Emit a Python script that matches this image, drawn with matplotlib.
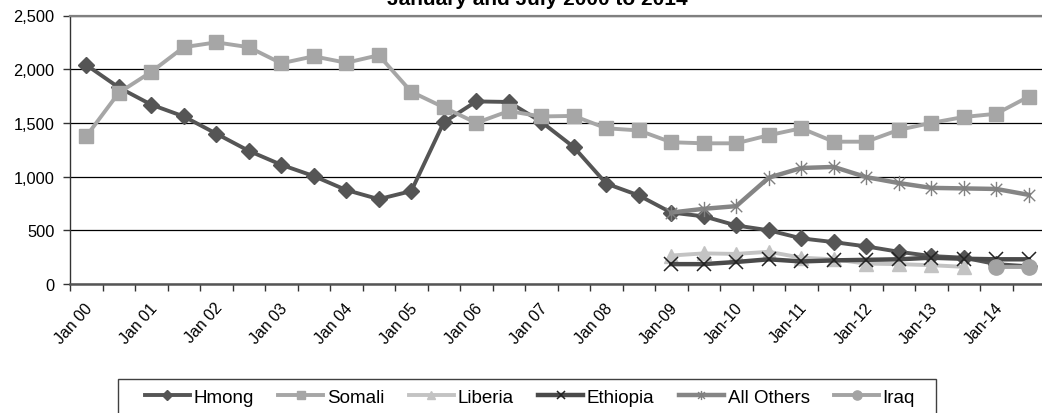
import matplotlib
matplotlib.use('Agg')
import matplotlib.pyplot as plt
import numpy as np
from matplotlib.path import Path
from matplotlib.patches import Rectangle

# half-year periods, Jan 2000 .. Jul 2014
periods = ['Jan 00', 'Jul 00', 'Jan 01', 'Jul 01', 'Jan 02', 'Jul 02', 'Jan 03', 'Jul 03',
           'Jan 04', 'Jul 04', 'Jan 05', 'Jul 05', 'Jan 06', 'Jul 06', 'Jan 07', 'Jul 07',
           'Jan 08', 'Jul 08', 'Jan-09', 'Jul-09', 'Jan-10', 'Jul-10', 'Jan-11', 'Jul-11',
           'Jan-12', 'Jul-12', 'Jan-13', 'Jul-13', 'Jan-14', 'Jul-14']

hmong = [2040, 1830, 1670, 1560, 1400, 1240, 1110, 1005, 875, 790, 865, 1505, 1700, 1695,
         1510, 1275, 935, 825, 665, 630, 545, 500, 425, 390, 350, 300, 260, 245, 185, 165]
somali = [1375, 1780, 1975, 2205, 2250, 2205, 2055, 2120, 2060, 2130, 1790, 1645, 1500, 1610,
          1560, 1565, 1450, 1430, 1320, 1310, 1310, 1385, 1450, 1325, 1325, 1435, 1500, 1555,
          1585, 1745]
liberia = [None] * 18 + [265, 285, 280, 300, 245, 230, 190, 185, 175, 160] + [None] * 2
ethiopia = [None] * 18 + [185, 185, 205, 230, 210, 220, 225, 230, 245, 235, 230, 230]
all_others = [None] * 18 + [665, 700, 725, 990, 1080, 1090, 995, 940, 895, 890, 885, 830]
iraq = [None] * 28 + [155, 155]

y_ticks = [0, 500, 1000, 1500, 2000, 2500]


def arr(vals):
    return np.array([np.nan if v is None else v for v in vals], dtype=float)


# Excel-style star: an x with a vertical bar through it
star = Path([(0, -1), (0, 1), (-0.75, -0.75), (0.75, 0.75), (-0.75, 0.75), (0.75, -0.75)],
            [Path.MOVETO, Path.LINETO, Path.MOVETO, Path.LINETO, Path.MOVETO, Path.LINETO])

plt.rcParams['font.family'] = ['Liberation Sans', 'DejaVu Sans']

W, H = 1042, 414
fig = plt.figure(figsize=(W / 100, H / 100), dpi=100)
ax = fig.add_axes([70 / W, 1 - 285 / H, 975 / W, (285 - 16.5) / H])

x = np.arange(len(periods))
lw = 2.8
ax.plot(x, arr(hmong), color='#555555', lw=lw, marker='D', ms=8, label='Hmong')
ax.plot(x, arr(somali), color='#a6a6a6', lw=lw, marker='s', ms=10.5, label='Somali')
ax.plot(x, arr(liberia), color='#c3c3c3', lw=lw, marker='^', ms=9.5, label='Liberia')
ax.plot(x, arr(ethiopia), color='#4a4a4a', lw=lw + 0.4, marker='x', ms=10, mew=1.1,
        mec='#222222', label='Ethiopia')
ax.plot(x, arr(all_others), color='#858585', lw=lw + 0.4, marker=star, ms=11, mew=1.0,
        mfc='none', mec='#808080', label='All Others')
ax.plot(x, arr(iraq), color='#a3a3a3', lw=lw, marker='o', ms=11, label='Iraq')

ax.set_xlim(-0.5, len(periods) - 0.5)
ax.set_ylim(0, 2500)
ax.set_yticks(y_ticks)
ax.set_yticklabels([f'{v:,}' for v in y_ticks], fontsize=11.8)
ax.yaxis.grid(True, color='black', lw=0.9)
ax.set_axisbelow(True)

ax.set_xticks(np.arange(-0.5, len(periods), 1.0))
ax.set_xticklabels([])
ax.tick_params(axis='both', direction='out', length=5, width=1, color='#333333')
ax.tick_params(axis='y', pad=6)
for i in range(0, len(periods), 2):
    ax.annotate(periods[i], xy=(i, 0), xycoords=('data', 'axes fraction'),
                xytext=(2.5, -15), textcoords='offset points', rotation=48,
                rotation_mode='anchor', ha='right', va='center', fontsize=11.5)

ax.spines['top'].set_color('#808080')
ax.spines['top'].set_linewidth(1.6)
ax.spines['left'].set_color('#333333')
ax.spines['left'].set_linewidth(1.0)
ax.spines['bottom'].set_color('#555555')
ax.spines['bottom'].set_linewidth(1.8)
ax.spines['right'].set_visible(False)

fig.text(537 / W, 1 - 5 / H, 'January and July 2000 to 2014', ha='center', va='baseline',
         fontsize=15, fontweight='bold')

fig.patches.append(Rectangle((118 / W, 1 - 430 / H), (936 - 118) / W, 50 / H,
                             transform=fig.transFigure, fill=False, ec='#404040', lw=1))
fig.legend(loc='center', bbox_to_anchor=(530 / W, 1 - 398 / H), ncol=6, frameon=False,
           fontsize=13.5, handlelength=2.4, handletextpad=0.2, columnspacing=1.3,
           markerscale=0.6)

fig.savefig('out.png', dpi=100)
